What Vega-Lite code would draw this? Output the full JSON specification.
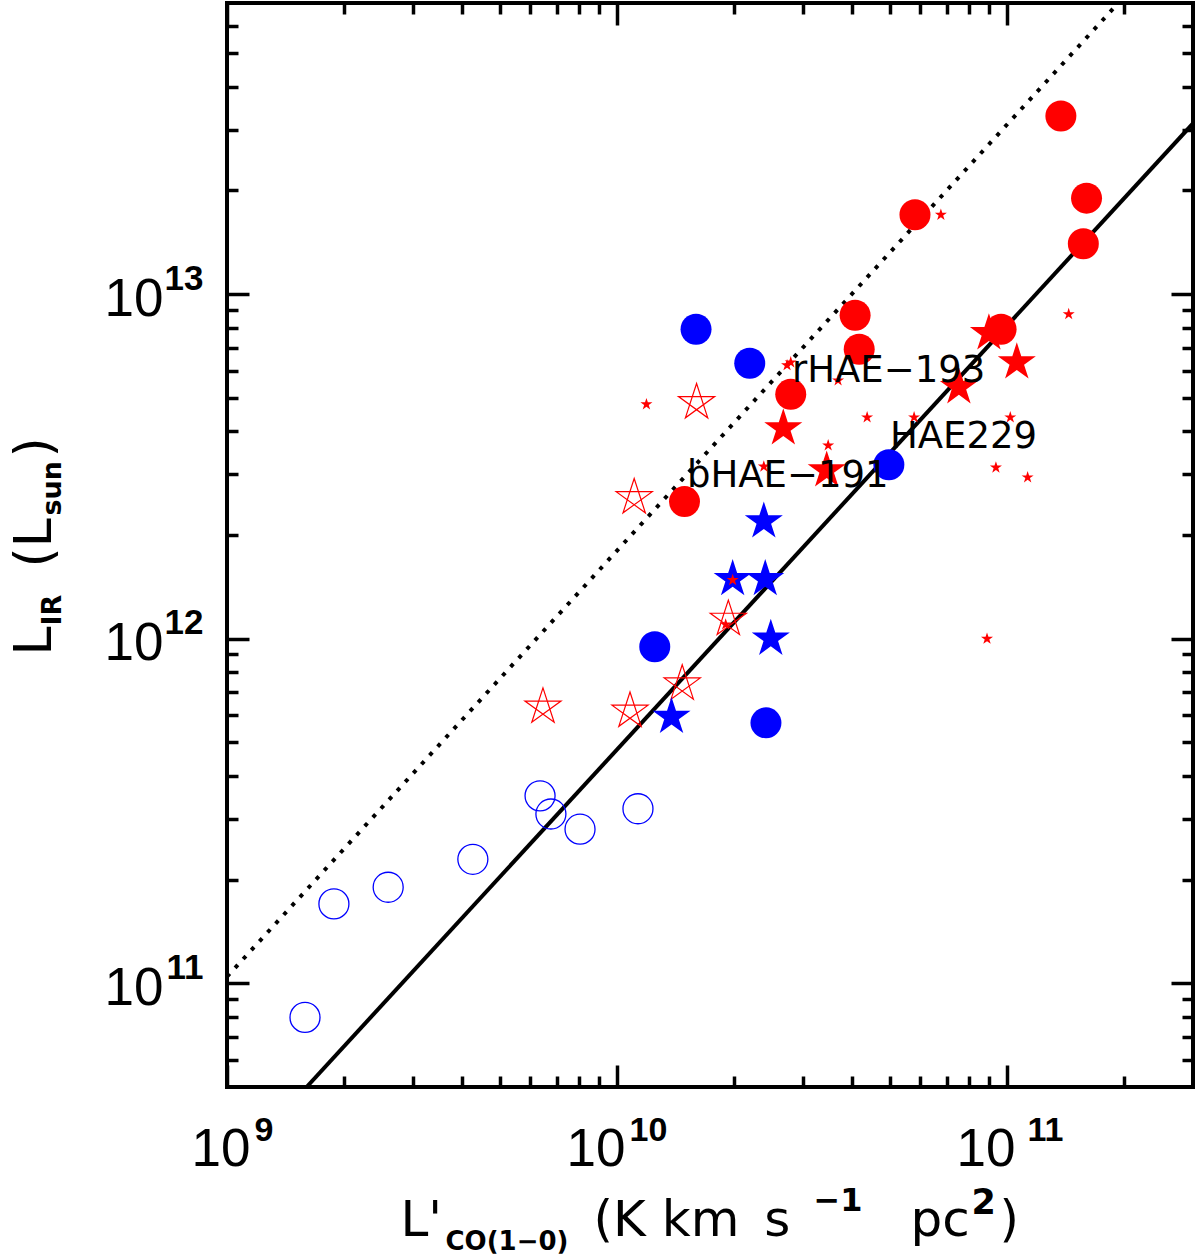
{
  "$schema": "https://vega.github.io/schema/vega-lite/v6.json",
  "description": "L_IR versus L'CO(1-0) for HAEs and comparison samples, log-log.",
  "autosize": {"type": "none"},
  "padding": {"left": 227, "top": 3, "right": 7, "bottom": 172},
  "width": 966,
  "height": 1084,
  "datasets": {
    "lines": [
      {"line": "solid", "lco": 1.6e9, "lir": 5.0e10},
      {"line": "solid", "lco": 3.0e11, "lir": 3.13e13},
      {"line": "dotted", "lco": 1.0e9, "lir": 1.045e11},
      {"line": "dotted", "lco": 1.93e11, "lir": 7.0e13}
    ],
    "points": [
      {"type": "openCircle", "lco": 1.585e9, "lir": 7.96e10},
      {"type": "openCircle", "lco": 1.88e9, "lir": 1.70e11},
      {"type": "openCircle", "lco": 2.59e9, "lir": 1.90e11},
      {"type": "openCircle", "lco": 4.27e9, "lir": 2.29e11},
      {"type": "openCircle", "lco": 6.35e9, "lir": 3.50e11},
      {"type": "openCircle", "lco": 6.77e9, "lir": 3.10e11},
      {"type": "openCircle", "lco": 8.04e9, "lir": 2.80e11},
      {"type": "openCircle", "lco": 1.132e10, "lir": 3.21e11},
      {"type": "blueCircle", "lco": 1.595e10, "lir": 7.91e12},
      {"type": "blueCircle", "lco": 2.19e10, "lir": 6.30e12},
      {"type": "blueCircle", "lco": 4.98e10, "lir": 3.20e12},
      {"type": "blueCircle", "lco": 1.25e10, "lir": 9.48e11},
      {"type": "blueCircle", "lco": 2.41e10, "lir": 5.70e11},
      {"type": "blueStar", "lco": 2.38e10, "lir": 2.19e12},
      {"type": "blueStar", "lco": 1.98e10, "lir": 1.49e12},
      {"type": "blueStar", "lco": 2.40e10, "lir": 1.49e12},
      {"type": "blueStar", "lco": 2.48e10, "lir": 1.0e12},
      {"type": "blueStar", "lco": 1.38e10, "lir": 5.93e11},
      {"type": "redCircle", "lco": 1.375e11, "lir": 3.29e13},
      {"type": "redCircle", "lco": 1.60e11, "lir": 1.90e13},
      {"type": "redCircle", "lco": 1.57e11, "lir": 1.40e13},
      {"type": "redCircle", "lco": 5.81e10, "lir": 1.70e13},
      {"type": "redCircle", "lco": 9.66e10, "lir": 7.91e12},
      {"type": "redCircle", "lco": 4.08e10, "lir": 8.69e12},
      {"type": "redCircle", "lco": 4.18e10, "lir": 6.92e12},
      {"type": "redCircle", "lco": 2.79e10, "lir": 5.12e12},
      {"type": "redCircle", "lco": 1.49e10, "lir": 2.50e12},
      {"type": "redStar", "lco": 1.06e11, "lir": 6.34e12},
      {"type": "redStar", "lco": 7.53e10, "lir": 5.37e12},
      {"type": "redStar", "lco": 2.67e10, "lir": 4.08e12},
      {"type": "redStar", "lco": 3.45e10, "lir": 3.08e12},
      {"type": "redStar", "lco": 8.99e10, "lir": 7.70e12},
      {"type": "smallStar", "lco": 1.19e10, "lir": 4.79e12},
      {"type": "smallStar", "lco": 2.73e10, "lir": 6.22e12},
      {"type": "smallStar", "lco": 2.79e10, "lir": 6.34e12},
      {"type": "smallStar", "lco": 3.69e10, "lir": 5.62e12},
      {"type": "smallStar", "lco": 4.38e10, "lir": 4.39e12},
      {"type": "smallStar", "lco": 5.78e10, "lir": 4.39e12},
      {"type": "smallStar", "lco": 1.02e11, "lir": 4.39e12},
      {"type": "smallStar", "lco": 3.48e10, "lir": 3.64e12},
      {"type": "smallStar", "lco": 2.38e10, "lir": 3.16e12},
      {"type": "smallStar", "lco": 9.37e10, "lir": 3.14e12},
      {"type": "smallStar", "lco": 1.13e11, "lir": 2.94e12},
      {"type": "smallStar", "lco": 1.44e11, "lir": 8.75e12},
      {"type": "smallStar", "lco": 6.77e10, "lir": 1.70e13},
      {"type": "smallStar", "lco": 1.98e10, "lir": 1.48e12},
      {"type": "smallStar", "lco": 1.90e10, "lir": 1.10e12},
      {"type": "smallStar", "lco": 8.89e10, "lir": 1.0e12},
      {"type": "openStar", "lco": 1.60e10, "lir": 4.85e12},
      {"type": "openStar", "lco": 1.107e10, "lir": 2.57e12},
      {"type": "openStar", "lco": 1.93e10, "lir": 1.14e12},
      {"type": "openStar", "lco": 1.47e10, "lir": 7.40e11},
      {"type": "openStar", "lco": 1.08e10, "lir": 6.17e11},
      {"type": "openStar", "lco": 6.46e9, "lir": 6.34e11}
    ],
    "labels": [
      {"name": "rHAE−193", "lco": 2.81e10, "lir": 5.55e12},
      {"name": "HAE229", "lco": 5.01e10, "lir": 3.57e12},
      {"name": "bHAE−191", "lco": 1.512e10, "lir": 2.75e12}
    ]
  },
  "layer": [
    {
      "data": {"name": "lines"},
      "transform": [{"filter": "datum.line === 'solid'"}],
      "mark": {"type": "line", "color": "black", "strokeWidth": 4, "clip": true},
      "encoding": {
        "x": {
          "field": "lco", "type": "quantitative",
          "scale": {"type": "log", "domain": [1e9, 3e11], "nice": false},
          "axis": {
            "orient": "bottom", "values": [1e9, 1e10, 1e11], "ticks": false,
            "labelExpr": "'10'", "labelFontSize": 53, "labelAlign": "right",
            "labelBaseline": "alphabetic", "labelPadding": 78,
            "labelOffset": {"condition": {"test": "datum.value < 5e9", "value": 23}, "value": 8},
            "title": "L'", "titleFontSize": 50, "titleX": 173, "titleY": 148,
            "titleAlign": "left", "titleBaseline": "alphabetic"
          }
        },
        "y": {
          "field": "lir", "type": "quantitative",
          "scale": {"type": "log", "domain": [5e10, 7e13], "nice": false},
          "axis": {
            "orient": "left", "values": [1e11, 1e12, 1e13], "ticks": false,
            "labelExpr": "'10'", "labelFontSize": 53, "labelAlign": "right",
            "labelBaseline": "alphabetic", "labelPadding": 64, "labelOffset": 21,
            "title": "L", "titleFontSize": 52, "titleAngle": -90, "titleX": -177, "titleY": 652,
            "titleAlign": "left", "titleBaseline": "alphabetic"
          }
        }
      }
    },
    {
      "data": {"name": "lines"},
      "transform": [{"filter": "datum.line === 'dotted'"}],
      "mark": {"type": "line", "color": "black", "strokeWidth": 4, "strokeDash": [4, 8], "strokeCap": "butt", "clip": true},
      "encoding": {
        "x": {
          "field": "lco", "type": "quantitative",
          "scale": {"type": "log", "domain": [1e9, 3e11], "nice": false},
          "axis": {
            "orient": "bottom", "values": [1e9, 1e10, 1e11], "ticks": false,
            "labelExpr": "'' + round(log(datum.value) / LN10)", "labelFontSize": 34, "labelFontWeight": "bold",
            "labelAlign": "left", "labelBaseline": "alphabetic", "labelPadding": 53,
            "labelOffset": {"condition": [{"test": "datum.value < 5e9", "value": 27}, {"test": "datum.value > 5e10", "value": 20}], "value": 12},
            "title": "CO(1−0)", "titleFontSize": 26, "titleFontWeight": "bold", "titleX": 218, "titleY": 162,
            "titleAlign": "left", "titleBaseline": "alphabetic"
          }
        },
        "y": {
          "field": "lir", "type": "quantitative",
          "scale": {"type": "log", "domain": [5e10, 7e13], "nice": false},
          "axis": {
            "orient": "left", "values": [1e11, 1e12, 1e13], "ticks": false,
            "labelExpr": "'' + round(log(datum.value) / LN10)", "labelFontSize": 35, "labelFontWeight": "bold",
            "labelAlign": "right", "labelBaseline": "alphabetic", "labelPadding": 24, "labelOffset": -5,
            "title": "IR", "titleFontSize": 27, "titleFontWeight": "bold", "titleAngle": -90, "titleX": -167, "titleY": 622,
            "titleAlign": "left", "titleBaseline": "alphabetic"
          }
        }
      }
    },
    {
      "data": {"name": "points"},
      "transform": [{"filter": "datum.type === 'openCircle'"}],
      "mark": {"type": "point", "shape": "circle", "filled": false, "color": "#0000ff", "strokeWidth": 1.3, "size": 900, "opacity": 1},
      "encoding": {
        "x": {
          "field": "lco", "type": "quantitative",
          "scale": {"type": "log", "domain": [1e9, 3e11], "nice": false},
          "axis": {
            "orient": "bottom", "values": [1e9, 1e10, 1e11], "labels": false, "tickSize": -22,
            "title": "(K km\u2002s", "titleFontSize": 50, "titleX": 366, "titleY": 148,
            "titleAlign": "left", "titleBaseline": "alphabetic"
          }
        },
        "y": {
          "field": "lir", "type": "quantitative",
          "scale": {"type": "log", "domain": [5e10, 7e13], "nice": false},
          "axis": {
            "orient": "left", "values": [1e11, 1e12, 1e13], "labels": false, "tickSize": -22,
            "title": "(L", "titleFontSize": 52, "titleAngle": -90, "titleX": -177, "titleY": 564,
            "titleAlign": "left", "titleBaseline": "alphabetic"
          }
        }
      }
    },
    {
      "data": {"name": "points"},
      "transform": [{"filter": "datum.type === 'openStar'"}],
      "mark": {"type": "point", "shape": "M0,-1L0.588,0.809L-0.951,-0.309L0.951,-0.309L-0.588,0.809Z", "filled": false, "color": "#ff0000", "strokeWidth": 1.2, "size": 1444, "opacity": 1},
      "encoding": {
        "x": {
          "field": "lco", "type": "quantitative",
          "scale": {"type": "log", "domain": [1e9, 3e11], "nice": false},
          "axis": {
            "orient": "bottom", "labels": false, "tickSize": -11,
            "values": [2e9, 3e9, 4e9, 5e9, 6e9, 7e9, 8e9, 9e9, 2e10, 3e10, 4e10, 5e10, 6e10, 7e10, 8e10, 9e10, 2e11],
            "title": "−1", "titleFontSize": 32, "titleFontWeight": "bold", "titleX": 586, "titleY": 123,
            "titleAlign": "left", "titleBaseline": "alphabetic"
          }
        },
        "y": {
          "field": "lir", "type": "quantitative",
          "scale": {"type": "log", "domain": [5e10, 7e13], "nice": false},
          "axis": {
            "orient": "left", "labels": false, "tickSize": -11,
            "values": [6e10, 7e10, 8e10, 9e10, 2e11, 3e11, 4e11, 5e11, 6e11, 7e11, 8e11, 9e11, 2e12, 3e12, 4e12, 5e12, 6e12, 7e12, 8e12, 9e12, 2e13, 3e13, 4e13, 5e13, 6e13],
            "title": "sun", "titleFontSize": 27, "titleFontWeight": "bold", "titleAngle": -90, "titleX": -167, "titleY": 512,
            "titleAlign": "left", "titleBaseline": "alphabetic"
          }
        }
      }
    },
    {
      "data": {"name": "points"},
      "transform": [{"filter": "datum.type === 'blueStar'"}],
      "mark": {"type": "point", "shape": "M0,-1L0.2245,-0.309L0.951,-0.309L0.363,0.118L0.588,0.809L0,0.382L-0.588,0.809L-0.363,0.118L-0.951,-0.309L-0.2245,-0.309Z", "filled": true, "color": "#0000ff", "size": 1600, "opacity": 1},
      "encoding": {
        "x": {
          "field": "lco", "type": "quantitative",
          "scale": {"type": "log", "domain": [1e9, 3e11], "nice": false},
          "axis": {
            "orient": "top", "values": [1e9, 1e10, 1e11], "labels": false, "tickSize": -22,
            "title": "pc", "titleFontSize": 50, "titleX": 683, "titleY": 1232,
            "titleAlign": "left", "titleBaseline": "alphabetic"
          }
        },
        "y": {
          "field": "lir", "type": "quantitative",
          "scale": {"type": "log", "domain": [5e10, 7e13], "nice": false},
          "axis": {
            "orient": "right", "values": [1e11, 1e12, 1e13], "labels": false, "tickSize": -22,
            "title": ")", "titleFontSize": 52, "titleAngle": -90, "titleX": -1143, "titleY": 454,
            "titleAlign": "left", "titleBaseline": "alphabetic"
          }
        }
      }
    },
    {
      "data": {"name": "points"},
      "transform": [{"filter": "datum.type === 'redStar'"}],
      "mark": {"type": "point", "shape": "M0,-1L0.2245,-0.309L0.951,-0.309L0.363,0.118L0.588,0.809L0,0.382L-0.588,0.809L-0.363,0.118L-0.951,-0.309L-0.2245,-0.309Z", "filled": true, "color": "#ff0000", "size": 1600, "opacity": 1},
      "encoding": {
        "x": {
          "field": "lco", "type": "quantitative",
          "scale": {"type": "log", "domain": [1e9, 3e11], "nice": false},
          "axis": {
            "orient": "top", "labels": false, "tickSize": -11,
            "values": [2e9, 3e9, 4e9, 5e9, 6e9, 7e9, 8e9, 9e9, 2e10, 3e10, 4e10, 5e10, 6e10, 7e10, 8e10, 9e10, 2e11],
            "title": "2", "titleFontSize": 35, "titleFontWeight": "bold", "titleX": 744, "titleY": 1210,
            "titleAlign": "left", "titleBaseline": "alphabetic"
          }
        },
        "y": {
          "field": "lir", "type": "quantitative",
          "scale": {"type": "log", "domain": [5e10, 7e13], "nice": false},
          "axis": {
            "orient": "right", "labels": false, "tickSize": -11,
            "values": [6e10, 7e10, 8e10, 9e10, 2e11, 3e11, 4e11, 5e11, 6e11, 7e11, 8e11, 9e11, 2e12, 3e12, 4e12, 5e12, 6e12, 7e12, 8e12, 9e12, 2e13, 3e13, 4e13, 5e13, 6e13],
            "title": ")", "titleFontSize": 50, "titleAngle": 0, "titleX": -194, "titleY": 1232,
            "titleAlign": "left", "titleBaseline": "alphabetic"
          }
        }
      }
    },
    {
      "data": {"name": "points"},
      "transform": [{"filter": "datum.type === 'blueCircle'"}],
      "mark": {"type": "point", "shape": "circle", "filled": true, "color": "#0000ff", "size": 961, "opacity": 1},
      "encoding": {
        "x": {"field": "lco", "type": "quantitative", "scale": {"type": "log", "domain": [1e9, 3e11], "nice": false}, "axis": null},
        "y": {"field": "lir", "type": "quantitative", "scale": {"type": "log", "domain": [5e10, 7e13], "nice": false}, "axis": null}
      }
    },
    {
      "data": {"name": "points"},
      "transform": [{"filter": "datum.type === 'redCircle'"}],
      "mark": {"type": "point", "shape": "circle", "filled": true, "color": "#ff0000", "size": 961, "opacity": 1},
      "encoding": {
        "x": {"field": "lco", "type": "quantitative", "scale": {"type": "log", "domain": [1e9, 3e11], "nice": false}, "axis": null},
        "y": {"field": "lir", "type": "quantitative", "scale": {"type": "log", "domain": [5e10, 7e13], "nice": false}, "axis": null}
      }
    },
    {
      "data": {"name": "points"},
      "transform": [{"filter": "datum.type === 'smallStar'"}],
      "mark": {"type": "point", "shape": "M0,-1L0.2245,-0.309L0.951,-0.309L0.363,0.118L0.588,0.809L0,0.382L-0.588,0.809L-0.363,0.118L-0.951,-0.309L-0.2245,-0.309Z", "filled": true, "color": "#ff0000", "size": 160, "opacity": 1},
      "encoding": {
        "x": {"field": "lco", "type": "quantitative", "scale": {"type": "log", "domain": [1e9, 3e11], "nice": false}, "axis": null},
        "y": {"field": "lir", "type": "quantitative", "scale": {"type": "log", "domain": [5e10, 7e13], "nice": false}, "axis": null}
      }
    },
    {
      "data": {"name": "labels"},
      "mark": {"type": "text", "align": "left", "baseline": "alphabetic", "font": "DejaVu Sans", "fontSize": 37, "color": "black"},
      "encoding": {
        "x": {"field": "lco", "type": "quantitative", "scale": {"type": "log", "domain": [1e9, 3e11], "nice": false}, "axis": null},
        "y": {"field": "lir", "type": "quantitative", "scale": {"type": "log", "domain": [5e10, 7e13], "nice": false}, "axis": null},
        "text": {"field": "name"}
      }
    }
  ],
  "resolve": {"axis": {"x": "independent", "y": "independent"}},
  "config": {
    "view": {"stroke": "black", "strokeWidth": 4},
    "axis": {
      "grid": false,
      "domain": false,
      "tickColor": "black",
      "tickWidth": 3.5,
      "tickCap": "butt",
      "labelColor": "black",
      "labelFont": "Liberation Sans",
      "labelFlush": false,
      "labelOverlap": false,
      "labelBound": false,
      "titleColor": "black",
      "titleFont": "DejaVu Sans",
      "titleFontWeight": "normal"
    }
  }
}
